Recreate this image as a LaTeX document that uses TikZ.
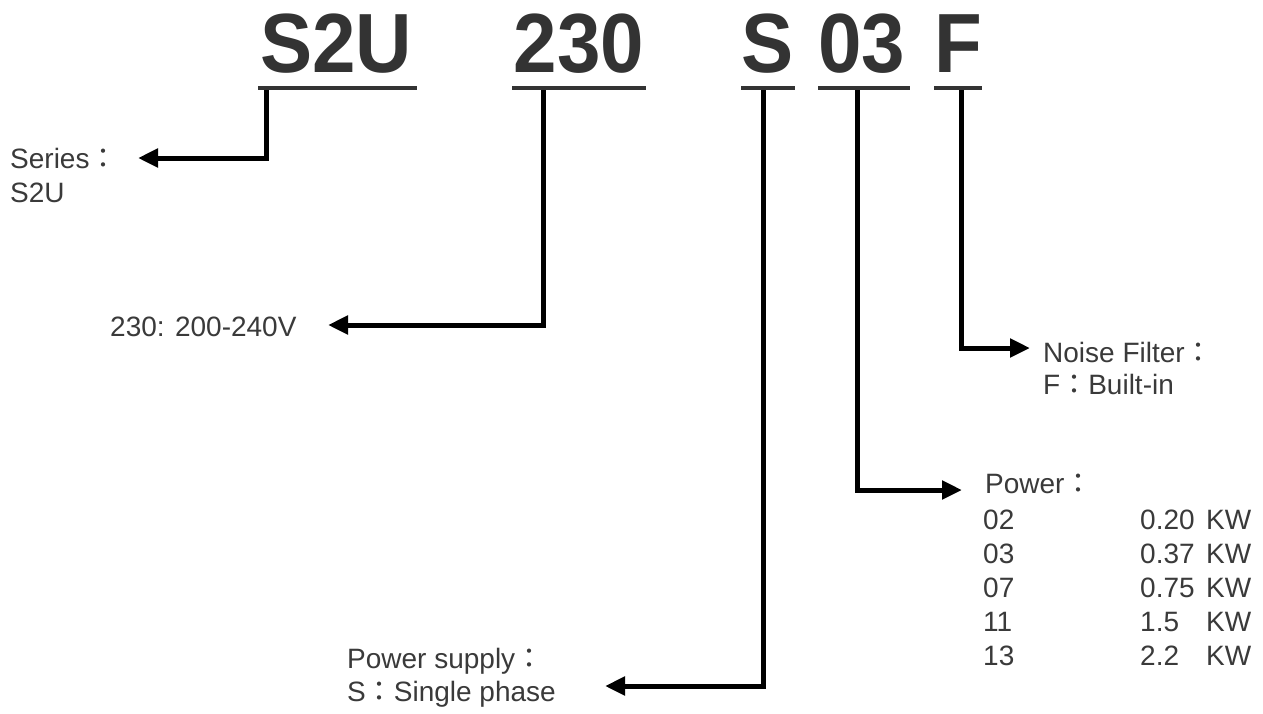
\documentclass[tikz,border=0pt]{standalone}
\usepackage{fontspec}
\usepackage{graphicx}
\setmainfont{Liberation Sans}
\newfontfamily\cjk{Noto Sans CJK TC}
\usetikzlibrary{arrows.meta}
\definecolor{titlegray}{HTML}{333333}
\definecolor{labelgray}{HTML}{3A3A3A}
\newcommand{\fc}{{\cjk ：}}
\tikzset{
  titletext/.style={anchor=base, inner sep=0pt, text=titlegray,
    font=\fontsize{84}{84}\selectfont\bfseries},
  lbl/.style={anchor=base west, inner sep=0pt, text=labelgray,
    font=\fontsize{28}{34}\selectfont},
  uline/.style={draw=titlegray, line width=4pt},
  conn/.style={draw=black, line width=5pt, line join=miter,
    -{Triangle[length=20pt,width=18pt]}}
}
\begin{document}
\begin{tikzpicture}[x=1pt,y=-1pt]
\useasboundingbox[fill=white] (0,0) rectangle (1263,713);
% title parts
\node[titletext] (t1) at (336,72) {\scalebox{0.93}[1]{S2U}};
\node[titletext] (t2) at (579,72) {\scalebox{0.93}[1]{230}};
\node[titletext] (t3) at (768,72) {\scalebox{0.93}[1]{S}};
\node[titletext] (t4) at (862,72) {\scalebox{0.93}[1]{03}};
\node[titletext] (t5) at (958,72) {\scalebox{0.93}[1]{F}};
% underlines
\draw[uline] (258,88) -- (417,88);
\draw[uline] (512,88) -- (646,88);
\draw[uline] (741,88) -- (795,88);
\draw[uline] (818,88) -- (910,88);
\draw[uline] (934,88) -- (982,88);
% stem tops
\coordinate (s1) at (266,90);
\coordinate (s2) at (543,90);
\coordinate (s3) at (763,90);
\coordinate (s4) at (857,90);
\coordinate (s5) at (961,90);
% labels
\node[lbl] (series) at (10,168) {Series\fc};
\node[lbl] (series2) at (10,202) {S2U};
\node[lbl] (volt) at (110,336) {230: 200-240V};
\node[lbl] (noise) at (1043,362) {Noise Filter\fc};
\node[lbl] (noise2) at (1043,394) {F\fc Built-in};
\node[lbl] (power) at (985,493) {Power\fc};
\node[lbl] (supply) at (347,668) {Power supply\fc};
\node[lbl] (supply2) at (347,701) {S\fc Single phase};
% power table
\foreach \code/\val [count=\i] in {02/0.20,03/0.37,07/0.75,11/1.5,13/2.2}{
  \node[lbl] (c\i) at (983,495+34*\i) {\code};
  \node[lbl] (v\i) at (1140,495+34*\i) {\val};
  \node[lbl] (k\i) at (1206,495+34*\i) {KW};
}
% arrow tips
\coordinate (a1) at (138,158);
\coordinate (a2) at (328,325);
\coordinate (a3) at (605,686);
\coordinate (a4) at (962,490);
\coordinate (a5) at (1030,348);
% connectors
\draw[conn] (s1) |- (a1);
\draw[conn] (s2) |- (a2);
\draw[conn] (s3) |- (a3);
\draw[conn] (s4) |- (a4);
\draw[conn] (s5) |- (a5);
\end{tikzpicture}
\end{document}
